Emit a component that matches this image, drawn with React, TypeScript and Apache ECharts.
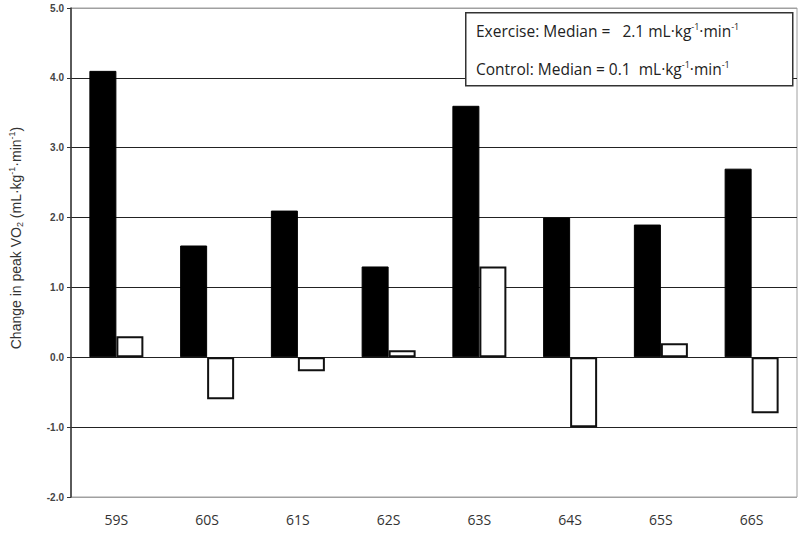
import React, { useEffect, useRef } from "react";
import * as echarts from "echarts";

const categories = ["59S", "60S", "61S", "62S", "63S", "64S", "65S", "66S"];
const exerciseValues = [4.1, 1.6, 2.1, 1.3, 3.6, 2.0, 1.9, 2.7];
const controlValues = [0.3, -0.6, -0.2, 0.1, 1.3, -1.0, 0.2, -0.8];
const exerciseText = "Exercise: Median =   2.1 mL·kg{sup|-1}·min{sup|-1}";
const controlText = "Control: Median = 0.1  mL·kg{sup|-1}·min{sup|-1}";
const yAxisTitle = "Change in peak VO{sub|2} (mL·kg{sup|-1}·min{sup|-1})";

export default function App() {
  const ref = useRef<HTMLDivElement>(null);
  useEffect(() => {
    if (!ref.current) return;
    const chart = echarts.init(ref.current, undefined, { renderer: "svg" });
    const font = "'Liberation Sans', Arial, sans-serif";
    const textFont = "'Open Sans', 'Liberation Sans', sans-serif";
    const supBox = { fontSize: 9, verticalAlign: "top", padding: [0, 0, 9, 0], fill: "#222", fontFamily: textFont };
    chart.setOption({
      animation: false,
      backgroundColor: "#fff",
      grid: { left: 71, right: 3, top: 8, bottom: 40, show: true, borderColor: "#a0a0a0", borderWidth: 1, backgroundColor: "transparent" },
      xAxis: {
        type: "category",
        data: categories,
        position: "bottom",
        axisLine: { show: false },
        axisTick: { show: false },
        axisLabel: { color: "#333", fontSize: 14, fontFamily: textFont, margin: 15 },
      },
      yAxis: {
        type: "value",
        min: -2,
        max: 5,
        interval: 1,
        axisLine: { show: true, lineStyle: { color: "#333", width: 1.5 } },
        axisTick: { show: true, inside: false, length: 4, lineStyle: { color: "#333" } },
        axisLabel: {
          color: "#444",
          fontSize: 10,
          fontWeight: "bold",
          fontFamily: font,
          margin: 7,
          formatter: (v: number) => v.toFixed(1),
        },
        splitLine: {
          show: true,
          lineStyle: { color: ["#a0a0a0", "#222", "#222", "#222", "#222", "#222", "#222", "#a0a0a0"], width: 1.2 },
        },
      },
      series: [
        {
          name: "Exercise",
          type: "bar",
          data: exerciseValues,
          barWidth: 27,
          barGap: "0%",
          itemStyle: { color: "#000", borderColor: "#000", borderWidth: 1 },
        },
        {
          name: "Control",
          type: "bar",
          data: controlValues,
          barWidth: 27,
          barGap: "0%",
          itemStyle: { color: "#fff", borderColor: "#111", borderWidth: 2 },
        },
      ],
      graphic: [
        {
          type: "text",
          x: 16,
          y: 238,
          rotation: Math.PI / 2,
          z: 101,
          style: {
            text: yAxisTitle,
            fill: "#333",
            fontSize: 14,
            fontFamily: font,
            align: "center",
            verticalAlign: "middle",
            rich: {
              sup: { fontSize: 9, verticalAlign: "top", padding: [0, 0, 8, 0], fill: "#333", fontFamily: font },
              sub: { fontSize: 9, verticalAlign: "bottom", padding: [6, 0, 0, 0], fill: "#333", fontFamily: font },
            },
          },
        },
        {
          type: "rect",
          left: 465,
          top: 12,
          shape: { width: 327, height: 73 },
          style: { fill: "#fff", stroke: "#333", lineWidth: 1.5 },
          z: 100,
        },
        {
          type: "text",
          left: 476,
          top: 22,
          z: 101,
          style: {
            text: exerciseText,
            fill: "#222",
            fontSize: 15.5,
            fontFamily: textFont,
            rich: { sup: supBox },
          },
        },
        {
          type: "text",
          left: 476,
          top: 60,
          z: 101,
          style: {
            text: controlText,
            fill: "#222",
            fontSize: 15.5,
            fontFamily: textFont,
            rich: { sup: supBox },
          },
        },
      ],
    });
    return () => chart.dispose();
  }, []);
  return <div ref={ref} style={{ width: 800, height: 537, position: "absolute", left: 0, top: 0 }} />;
}
